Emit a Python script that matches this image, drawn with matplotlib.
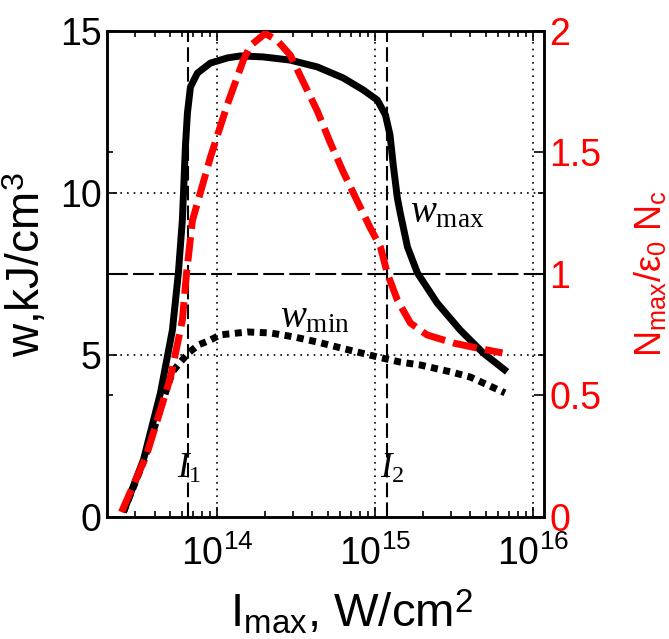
import matplotlib
matplotlib.use('Agg')
import matplotlib.pyplot as plt
from matplotlib.ticker import LogLocator, NullFormatter, FixedLocator

plt.rcParams['font.family'] = ['Liberation Sans', 'DejaVu Sans']
plt.rcParams['mathtext.fontset'] = 'custom'
plt.rcParams['mathtext.rm'] = 'Liberation Sans'
plt.rcParams['mathtext.it'] = 'Liberation Serif:italic'
plt.rcParams['mathtext.cal'] = 'Liberation Serif'
plt.rcParams['mathtext.sf'] = 'Liberation Sans'
plt.rcParams['mathtext.bf'] = 'Liberation Sans:bold'

# ---- data ----
wmax_I = [2.54e13, 3.40e13, 4.36e13, 5.19e13, 5.66e13, 6.00e13, 6.10e13, 6.27e13, 6.46e13,
          6.75e13, 7.47e13, 9.03e13, 1.16e14, 1.40e14, 1.95e14, 2.90e14, 4.30e14, 6.27e14,
          8.39e14, 1.03e15, 1.16e15, 1.24e15, 1.30e15, 1.38e15, 1.44e15, 1.60e15, 1.85e15,
          2.47e15, 3.45e15, 4.83e15, 6.84e15]
wmax = [0.15, 1.76, 3.83, 5.77, 7.53, 9.17, 10.0, 11.42, 12.47, 13.27, 13.70, 14.01, 14.17,
        14.23, 14.20, 14.10, 13.89, 13.55, 13.18, 12.87, 12.41, 11.79, 10.86, 9.85, 9.38,
        8.33, 7.53, 6.60, 5.77, 5.06, 4.48]

wmin_I = [2.54e13, 3.40e13, 4.69e13, 5.19e13, 5.83e13, 6.55e13, 7.58e13, 9.03e13, 1.04e14,
          1.55e14, 2.16e14, 3.03e14, 4.30e14, 6.00e14, 1.03e15, 1.44e15, 1.93e15, 2.99e15,
          3.99e15, 6.63e15]
wmin = [0.15, 1.70, 3.83, 4.48, 4.78, 5.06, 5.31, 5.46, 5.62, 5.71, 5.68, 5.56, 5.40, 5.22,
        4.94, 4.78, 4.69, 4.48, 4.32, 3.83]

N_I = [2.47e13, 3.56e13, 4.55e13, 5.05e13, 6.00e13, 6.37e13, 6.95e13, 9.03e13, 1.16e14,
       1.46e14, 1.62e14, 2.01e14, 2.40e14, 2.90e14, 3.50e14, 4.30e14, 5.19e14, 6.27e14,
       7.69e14, 9.29e14, 1.08e15, 1.19e15, 1.38e15, 1.67e15, 2.13e15, 3.12e15, 4.43e15,
       6.39e15]
N = [0.02, 0.255, 0.48, 0.576, 0.81, 1.0, 1.22, 1.48, 1.70, 1.88, 1.94, 1.99, 1.96, 1.90,
     1.79, 1.67, 1.54, 1.42, 1.30, 1.19, 1.11, 1.004, 0.893, 0.798, 0.749, 0.716, 0.695,
     0.675]

I1 = 6.5e13
I2 = 1.19e15
x_range = (2.0e13, 1.17e16)
w_ticks = [0, 5, 10, 15]
N_ticks = [0, 0.5, 1, 1.5, 2]
N_ticklabels = ['0', '0.5', '1', '1.5', '2']

fig = plt.figure(figsize=(6.69, 6.39), dpi=100)
ax = fig.add_axes([0.160, 0.191, 0.653, 0.7605])
ax2 = ax.twinx()

ax.set_xscale('log')
ax.set_xlim(*x_range)
ax.set_ylim(0, 15)
ax2.set_ylim(0, 2)

# grid lines (dotted)
for xv in [1e14, 1e15, 1e16]:
    ax.axvline(xv, color='k', lw=1.2, ls=(0, (1, 3)), zorder=1)
for yv in [5, 10]:
    ax.axhline(yv, color='k', lw=1.2, ls=(0, (1, 3)), zorder=1)
# dashed reference lines
for xv in [I1, I2]:
    ax.axvline(xv, color='k', lw=1.5, ls=(0, (7, 2.5)), zorder=1)
ax2.axhline(1, color='k', lw=1.5, ls=(0, (10, 2.5)), zorder=1)

ax.plot(wmax_I, wmax, color='k', lw=5, solid_capstyle='butt', zorder=3)
ax.plot(wmin_I, wmin, color='k', lw=5, ls=(0, (1, 0.8)), dash_capstyle='butt', zorder=3)
ax2.plot(N_I, N, color='#ff0000', lw=5, ls=(0, (3.5, 1.2)), dash_capstyle='butt', zorder=4)

# ticks
ax.xaxis.set_minor_locator(LogLocator(base=10, subs=range(2, 10), numticks=100))
ax.xaxis.set_minor_formatter(NullFormatter())
ax.set_xticks([1e14, 1e15, 1e16])
ax.set_yticks(w_ticks)
ax.yaxis.set_minor_locator(FixedLocator([3.75, 7.5, 11.25]))
ax2.set_yticks(N_ticks)
ax2.set_yticklabels(N_ticklabels)
ax2.yaxis.set_minor_locator(FixedLocator([2 / 3, 4 / 3]))

ax.tick_params(axis='x', which='both', direction='in', top=True, bottom=True,
               labelsize=27, pad=13, width=1.2)
ax.tick_params(axis='x', which='major', length=7)
ax.tick_params(axis='x', which='minor', length=4)
ax.tick_params(axis='y', which='both', direction='in', left=True, right=False,
               labelsize=27, pad=4, width=1.2)
ax.tick_params(axis='y', which='major', length=7)
ax.tick_params(axis='y', which='minor', length=4)
ax2.tick_params(axis='y', which='both', direction='in', right=True, left=False,
                labelsize=27, pad=4, width=1.2, labelcolor='#ff0000')
ax2.tick_params(axis='y', which='major', length=7)
ax2.tick_params(axis='y', which='minor', length=4)

for a in (ax, ax2):
    for s in a.spines.values():
        s.set_linewidth(1.8)

ax.set_xlabel(r'I$_{\mathrm{max}}$, W/cm$^{\mathrm{2}}$', fontsize=34)
ax.xaxis.set_label_coords(0.56, -0.148)
ax.set_ylabel(r'w,kJ/cm$^{\mathrm{3}}$', fontsize=33)
ax.yaxis.set_label_coords(-0.13, 0.52)
ax2.set_ylabel(r'N$_{\mathrm{max}}$/ε$_{\mathrm{0}}$ N$_{\mathrm{c}}$', fontsize=26,
               color='#ff0000')
ax2.yaxis.set_label_coords(1.205, 0.50)

# annotations
ax.text(1.66e15, 9.1, r'$w_{\mathcal{max}}$', fontsize=28, ha='left', va='baseline')
ax.text(2.51e14, 5.86, r'$w_{\mathcal{min}}$', fontsize=28, ha='left', va='baseline')
ax.text(5.58e13, 1.2, r'$I_{\mathcal{1}}$', fontsize=25, ha='left', va='baseline')
ax.text(1.07e15, 1.2, r'$I_{\mathcal{2}}$', fontsize=25, ha='left', va='baseline')

fig.savefig('out.png', dpi=100)
